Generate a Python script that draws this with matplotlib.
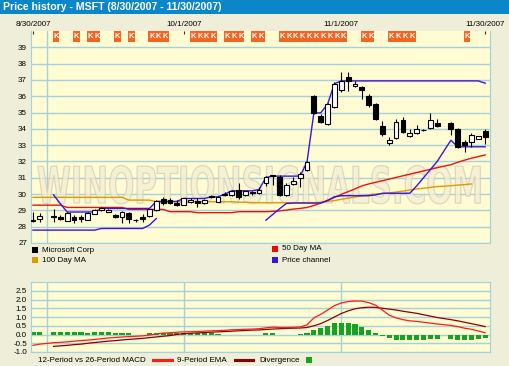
import numpy as np
import pandas as pd
import matplotlib
matplotlib.use('Agg')
import matplotlib.pyplot as plt
from matplotlib.patches import Rectangle, PathPatch
from matplotlib.lines import Line2D
from matplotlib.textpath import TextPath
from matplotlib.font_manager import FontProperties
from matplotlib.path import Path

plt.rcParams['font.family'] = ['Liberation Sans', 'DejaVu Sans']

# weekdays on the axis, holidays have no candle
days = pd.bdate_range('2007-08-30', '2007-11-30')
holidays = pd.to_datetime(['2007-09-03', '2007-11-22'])
trade_days = days.drop(holidays)

nan = np.nan
# MSFT daily prices
opens = [28.38, 28.50, 28.62, 28.60, 28.35, 28.57, 28.60, 28.42, 28.80, 29.00,
         28.92, 28.70, 28.60, 28.86, 28.40, 28.62, 28.65, 29.00, 29.67, 29.63,
         29.47, 29.33, 29.50, 29.59, 29.43, 29.86, 29.53, 30.03, 29.95, 30.28,
         29.95, 30.10, 30.08, 30.65, 31.15, 31.06, 29.95, 30.60, 30.96, 31.47,
         36.00, 34.78, 34.29, 35.35, 36.37, 37.18, 36.61, 36.57, 36.00, 35.55,
         34.16, 33.16, 33.41, 34.53, 33.59, 33.75, 33.92, 34.08, 34.37, 34.37,
         34.02, 33.20, 33.20, 33.39, 33.86]
highs = [28.92, 28.85, 29.06, 28.70, 28.90, 28.70, 28.70, 28.90, 29.10, 29.20,
         29.10, 28.80, 28.95, 28.90, 28.45, 28.78, 29.10, 29.65, 29.80, 29.73,
         29.63, 29.78, 29.79, 29.73, 29.67, 29.93, 29.88, 30.12, 30.25, 30.65,
         30.25, 30.20, 30.44, 31.10, 31.20, 31.15, 30.65, 31.05, 31.36, 32.05,
         36.05, 34.94, 35.60, 36.90, 37.49, 37.49, 36.94, 36.60, 36.16, 35.60,
         34.49, 33.51, 34.60, 34.70, 34.02, 34.22, 34.02, 34.98, 34.63, 34.43,
         34.06, 33.31, 33.75, 33.57, 34.02]
lows = [28.30, 28.30, 28.30, 28.40, 28.33, 28.25, 28.30, 28.40, 28.75, 28.95,
        28.90, 28.55, 28.25, 28.25, 28.30, 28.30, 28.60, 28.95, 29.35, 29.37,
        29.25, 29.30, 29.43, 29.23, 29.40, 29.75, 29.50, 29.90, 29.90, 29.67,
        29.90, 29.95, 30.03, 30.50, 30.55, 29.90, 29.90, 30.55, 30.45, 31.40,
        34.90, 34.33, 34.25, 35.30, 36.27, 36.33, 36.57, 35.86, 35.35, 34.55,
        33.55, 33.00, 33.35, 33.75, 33.47, 33.67, 33.84, 34.02, 34.10, 33.63,
        32.85, 32.59, 32.90, 33.35, 33.10]
closes = [28.33, 28.65, 28.66, 28.45, 28.85, 28.42, 28.45, 28.86, 29.00, 29.12,
          29.02, 28.62, 28.92, 28.47, 28.38, 28.50, 29.06, 29.55, 29.45, 29.43,
          29.35, 29.73, 29.63, 29.43, 29.63, 29.80, 29.83, 29.95, 30.20, 29.83,
          30.20, 30.05, 30.28, 31.02, 31.12, 29.94, 30.55, 30.80, 31.26, 31.98,
          34.98, 34.43, 35.51, 36.77, 36.94, 36.94, 36.77, 36.37, 35.45, 34.63,
          33.67, 33.31, 34.39, 33.82, 33.75, 34.02, 33.94, 34.53, 34.16, 34.02,
          32.90, 33.00, 33.61, 33.55, 33.51]

ma50 = [29.32, 29.32, 29.32, 29.32, 29.18, 29.18, 29.18, 29.18, 29.18, 29.18,
        29.18, 29.18, 29.18, 29.06, 29.06, 29.06, 29.06, 29.06, 29.06, 28.92,
        28.92, 28.92, 28.92, 28.86, 28.86, 28.86, 28.86, 28.86, 28.86, 28.92,
        28.92, 28.92, 28.92, 28.92, 28.94, 28.97, 29.02, 29.08, 29.12, 29.18,
        29.30, 29.45, 29.62, 29.80, 29.98, 30.15, 30.32, 30.50, 30.62, 30.72,
        30.82, 30.92, 31.02, 31.12, 31.22, 31.32, 31.42, 31.52, 31.62, 31.80,
        31.95, 32.08, 32.20, 32.30, 32.40]
ma100 = [29.80, 29.80, 29.80, 29.80, 29.80, 29.80, 29.80, 29.80, 29.80, 29.80,
         29.80, 29.80, 29.80, 29.63, 29.63, 29.63, 29.63, 29.53, 29.53, 29.53,
         29.53, 29.53, 29.53, 29.53, 29.53, 29.53, 29.53, 29.53, 29.53, 29.50,
         29.50, 29.48, 29.47, 29.47, 29.47, 29.47, 29.47, 29.47, 29.47, 29.47,
         29.47, 29.50, 29.55, 29.60, 29.68, 29.75, 29.82, 29.88, 29.96, 30.00,
         30.03, 30.07, 30.12, 30.18, 30.25, 30.31, 30.36, 30.41, 30.46, 30.51,
         30.55, 30.58, 30.62, nan, nan]
chan_hi = [nan, nan, 29.95, 29.40, 28.90, 28.90, 28.90, 28.90, 28.90, 29.12,
           29.12, 29.12, 29.12, 29.12, 29.12, 29.12, 29.12, 29.55, 29.55, 29.55,
           29.55, 29.73, 29.73, 29.73, 29.73, 29.83, 29.83, 30.00, 30.20, 30.20,
           30.20, 30.20, 30.28, 31.02, 31.10, 31.10, 31.10, 31.10, 31.10, 31.98,
           34.98, 34.98, 35.51, 36.77, 36.94, 36.94, 36.94, 36.94, 36.94, 36.94,
           36.94, 36.94, 36.94, 36.94, 36.94, 36.94, 36.94, 36.94, 36.94, 36.94,
           36.94, 36.94, 36.94, 36.94, 36.80]
chan_lo = [27.79, 27.79, 27.79, 27.79, 27.79, 27.79, 27.79, 27.79, 27.79, 27.89,
           27.89, 27.89, 27.89, 27.89, 27.89, 27.89, 28.10, 28.50, nan, nan,
           nan, nan, nan, nan, nan, nan, nan, nan, nan, nan,
           nan, nan, nan, 28.40, 28.75, 29.10, 29.43, 29.45, 29.45, 29.45,
           29.45, 29.45, 29.60, 29.83, 29.90, 29.90, 29.90, 29.90, 29.90, 29.95,
           30.05, 30.05, 30.05, 30.05, 30.05, 30.50, 31.00, 31.50, 32.00, 33.30,
           32.90, 32.90, 32.90, 32.90, 32.90]

macd = [-0.62, -0.55, -0.47, -0.45, -0.42, -0.38, -0.35, -0.32, -0.28, -0.24,
        -0.20, -0.17, -0.14, -0.12, -0.10, -0.08, -0.03, 0.03, 0.08, 0.10,
        0.13, 0.15, 0.16, 0.17, 0.19, 0.21, 0.22, 0.24, 0.27, 0.28,
        0.30, 0.31, 0.33, 0.38, 0.42, 0.40, 0.40, 0.41, 0.43, 0.55,
        0.95, 1.15, 1.40, 1.65, 1.80, 1.88, 1.91, 1.91, 1.82, 1.68,
        1.40, 1.10, 0.95, 0.85, 0.78, 0.75, 0.70, 0.65, 0.60, 0.52,
        0.45, 0.36, 0.30, 0.20, 0.10]
ema9 = [nan, nan, -0.68, -0.65, -0.62, -0.58, -0.55, -0.50, -0.46, -0.42,
        -0.38, -0.35, -0.31, -0.28, -0.25, -0.22, -0.18, -0.14, -0.10, -0.06,
        0.00, 0.05, 0.07, 0.09, 0.11, 0.13, 0.15, 0.17, 0.19, 0.21,
        0.23, 0.25, 0.26, 0.29, 0.31, 0.33, 0.35, 0.36, 0.37, 0.40,
        0.50, 0.62, 0.80, 1.00, 1.20, 1.35, 1.47, 1.53, 1.56, 1.55,
        1.50, 1.45, 1.40, 1.33, 1.27, 1.21, 1.13, 1.05, 0.97, 0.85,
        0.78, 0.70, 0.62, 0.54, 0.45]
diverg = [0.12, 0.12, 0.12, 0.12, 0.12, 0.12, 0.12, 0.10, 0.12, 0.12,
          0.12, 0.08, 0.08, 0.06, 0.00, 0.00, 0.06, 0.06, 0.06, 0.06,
          0.06, 0.06, 0.06, 0.06, 0.06, 0.06, 0.05, 0.00, 0.00, 0.00,
          0.00, 0.00, 0.00, 0.06, 0.06, 0.00, 0.00, 0.00, 0.05, 0.10,
          0.27, 0.40, 0.50, 0.65, 0.65, 0.65, 0.60, 0.45, 0.25, 0.07,
          -0.08, -0.22, -0.30, -0.30, -0.30, -0.30, -0.30, -0.28, -0.28, -0.28,
          -0.30, -0.30, -0.30, -0.28, -0.22]

k_days = ['2007-09-04', '2007-09-07', '2007-09-11', '2007-09-12', '2007-09-17',
          '2007-09-19', '2007-09-24', '2007-09-25', '2007-09-26', '2007-10-02',
          '2007-10-03', '2007-10-04', '2007-10-05', '2007-10-09', '2007-10-10',
          '2007-10-11', '2007-10-15', '2007-10-16', '2007-10-19', '2007-10-22',
          '2007-10-23', '2007-10-24', '2007-10-25', '2007-10-26', '2007-10-29',
          '2007-10-30', '2007-10-31', '2007-11-01', '2007-11-06', '2007-11-07',
          '2007-11-12', '2007-11-13', '2007-11-14', '2007-11-15', '2007-11-27']

date_ticks = ['2007-08-30', '2007-10-01', '2007-11-01', '2007-11-30']
date_labels = ['8/30/2007', '10/1/2007', '11/1/2007', '11/30/2007']
month_lines = ['2007-09-03', '2007-10-01', '2007-11-01']

x = days.get_indexer(trade_days)
xk = days.get_indexer(pd.to_datetime(k_days))
xt = days.get_indexer(pd.to_datetime(date_ticks))
xm = days.get_indexer(pd.to_datetime(month_lines))

o = np.array(opens); h = np.array(highs); l = np.array(lows); c = np.array(closes)

bg = '#efeed8'
panel = '#fffcd4'
gridc = '#a3d2dc'

W, H = 510, 366
fig = plt.figure(figsize=(W / 100, H / 100), dpi=100, facecolor=bg)

def fx(px):
    return px / W

def fy(py):
    return 1 - py / H

# title bar
fig.patches.append(Rectangle((0, fy(14)), 1, 14 / H, transform=fig.transFigure,
                             facecolor='#0b86c9', edgecolor='none'))
fig.text(fx(3), fy(7.5), 'Price history - MSFT (8/30/2007 - 11/30/2007)',
         color='white', fontsize=7.6, fontweight='bold', va='center', ha='left')

ax = fig.add_axes([fx(31), fy(243), 459 / W, 212 / H], facecolor=panel)
ax.set_xlim(-0.29, 66.71)
ax.set_ylim(27, 40)
ax.set_axisbelow(True)

# watermark
tp = TextPath((0, 0), 'WINOPTIONSIGNALS.COM', size=10,
              prop=FontProperties(family='DejaVu Sans', weight='bold'))
ext = tp.get_extents()
v = tp.vertices.copy()
v[:, 0] = 0.7 + (v[:, 0] - ext.x0) / ext.width * (65.3 - 0.7)
v[:, 1] = 29.4 + (v[:, 1] - ext.y0) / ext.height * (31.75 - 29.4)
ax.add_patch(PathPatch(Path(v, tp.codes), facecolor='#f3eed3', edgecolor='#d3cdb8',
                       lw=0.9, alpha=0.75, zorder=1))

ax.plot(x, ma100, color='#e09a00', lw=1.0, zorder=2)
ax.plot(x, ma50, color='#ee1111', lw=1.0, zorder=2)
ax.plot(x, chan_hi, color='#3c14e0', lw=1.0, zorder=2)
ax.plot(x, chan_lo, color='#3c14e0', lw=1.0, zorder=2)

# candles
ax.vlines(x, l, h, color='black', lw=0.8, zorder=3)
up = c >= o
ax.bar(x, np.abs(c - o), bottom=np.minimum(o, c), width=0.7,
       color=np.where(up, 'white', 'black'), edgecolor='black', lw=0.8, zorder=4)

# K markers
for xi in xk:
    ax.add_patch(Rectangle((xi - 0.15, 39.33), 1.0, 0.66, facecolor='#f26522',
                           edgecolor='none', zorder=5))
    ax.text(xi + 0.35, 39.65, 'K', color='white', fontsize=5.5, fontweight='bold',
            ha='center', va='center', zorder=6)

ax.set_yticks(range(27, 40))
ax.grid(axis='y', which='major', color=gridc, lw=1)
ax.xaxis.tick_top()
ax.set_xticks(xt, date_labels)
ax.set_xticks(xm, minor=True)
ax.grid(axis='x', which='minor', color=gridc, lw=1)
ax.tick_params(axis='x', which='major', direction='in', length=2.5, width=0.8,
               color='#333333', pad=2, labelsize=5.8)
ax.tick_params(axis='x', which='minor', length=0)
ax.tick_params(axis='y', length=0, pad=2.9, labelsize=5.8)
for s in ['left', 'right', 'bottom']:
    ax.spines[s].set_color(gridc)
ax.spines['top'].set_visible(False)

# price legend
def square(px, py, color):
    fig.patches.append(Rectangle((fx(px), fy(py + 6)), 6 / W, 6 / H,
                                 transform=fig.transFigure, facecolor=color,
                                 edgecolor='none'))

square(32, 247, 'black')
fig.text(fx(42), fy(250), 'Microsoft Corp', fontsize=5.8, va='center')
square(32, 257, '#e09a00')
fig.text(fx(42), fy(260), '100 Day MA', fontsize=5.8, va='center')
square(272, 246, '#ff0000')
fig.text(fx(282), fy(249), '50 Day MA', fontsize=5.8, va='center')
square(272, 257, '#3c14e0')
fig.text(fx(282), fy(260), 'Price channel', fontsize=5.8, va='center')

# MACD panel
ax2 = fig.add_axes([fx(31), fy(352), 459 / W, 70 / H], facecolor=panel)
ax2.set_xlim(-0.29, 66.71)
ax2.set_ylim(-1, 3)
ax2.set_axisbelow(True)
ax2.bar(x, diverg, width=0.75, color='#17a322', zorder=2)
ax2.plot(x, ema9, color='#8b0000', lw=0.9, zorder=3)
ax2.plot(x, macd, color='#ff1a1a', lw=0.9, zorder=3)
yt = np.arange(-1.0, 2.6, 0.5)
ax2.set_yticks(yt, ['%.1f' % t for t in yt])
ax2.grid(axis='y', which='major', color=gridc, lw=1)
ax2.set_xticks([])
ax2.set_xticks(xm, minor=True)
ax2.grid(axis='x', which='minor', color=gridc, lw=1)
ax2.tick_params(axis='x', which='both', length=0)
ax2.tick_params(axis='y', length=0, pad=2.9, labelsize=5.8)
for s in ax2.spines.values():
    s.set_color(gridc)

# MACD legend
fig.text(fx(38), fy(361), '12-Period vs 26-Period MACD', fontsize=5.8, va='center')
fig.lines.append(Line2D([fx(153), fx(172)], [fy(360), fy(360)], transform=fig.transFigure,
                        color='#ff1a1a', lw=2.2))
fig.text(fx(177), fy(361), '9-Period EMA', fontsize=5.8, va='center')
fig.lines.append(Line2D([fx(235), fx(253)], [fy(360), fy(360)], transform=fig.transFigure,
                        color='#8b0000', lw=2.2))
fig.text(fx(259), fy(361), 'Divergence', fontsize=5.8, va='center')
square(306, 357, '#17a322')

fig.savefig('out.png', dpi=100, facecolor=bg)
